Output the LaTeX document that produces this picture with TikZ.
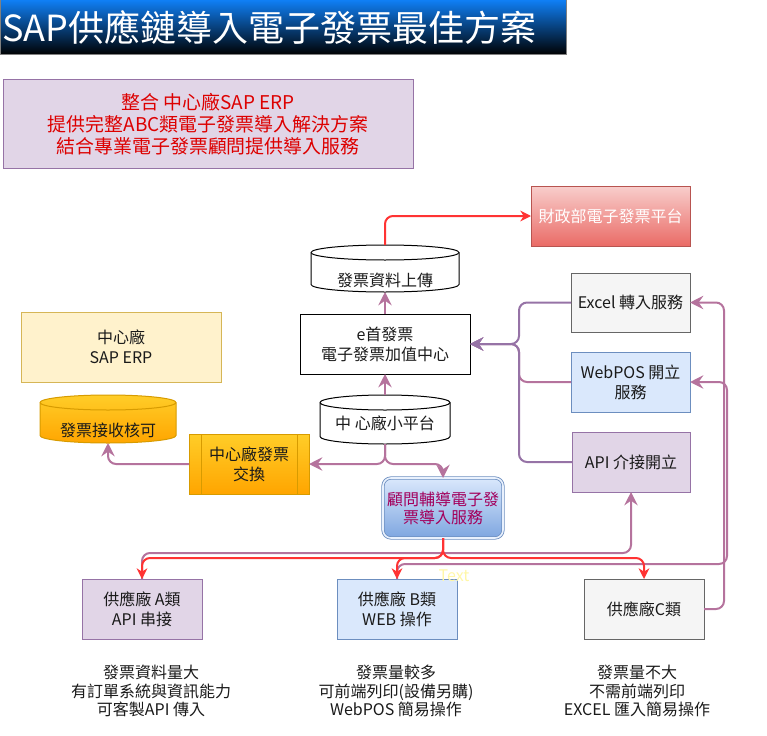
\documentclass[tikz,border=0pt]{standalone}
\usepackage{fontspec}
\setmainfont{Noto Sans CJK TC}
\usetikzlibrary{arrows.meta,calc}
\definecolor{pbd}{HTML}{9673A6}
\definecolor{pfill}{HTML}{E1D5E7}
\definecolor{cPink}{HTML}{B5739D}
\definecolor{redl}{HTML}{FF3333}
\definecolor{redt}{HTML}{DD0000}
\definecolor{ybd}{HTML}{D6B656}
\definecolor{yfill}{HTML}{FFF2CC}
\definecolor{obd}{HTML}{D79B00}
\definecolor{otop}{HTML}{FFCD28}
\definecolor{obot}{HTML}{FFA500}
\definecolor{rtop}{HTML}{F8CECC}
\definecolor{rbot}{HTML}{EA6B66}
\definecolor{rbd}{HTML}{B85450}
\definecolor{gfill}{HTML}{F5F5F5}
\definecolor{gbd}{HTML}{666666}
\definecolor{bfill}{HTML}{DAE8FC}
\definecolor{bbd}{HTML}{6C8EBF}
\definecolor{bbot}{HTML}{7EA6E0}
\definecolor{mag}{HTML}{A3005C}
\definecolor{tTop}{HTML}{0F7FF5}
\definecolor{tMid}{HTML}{063C85}
\definecolor{faintY}{HTML}{FFF7A8}
\definecolor{txt}{HTML}{1A1A1A}
\newcommand\myfs[2]{\fontsize{#1pt}{#2pt}\selectfont}
\newcommand\bx[6]{\node[#1,minimum width={(#4-#2)*0.75pt},minimum height={(#5-#3)*0.75pt}] (#6) at ({(#2+#4)/2},{(#3+#5)/2})}
\newcommand\drawcyl[6]{%
 \pgfmathsetmacro\cyA{#3}\pgfmathsetmacro\cyB{#5}%
 \pgfmathsetmacro\cyM{(#3+#5)/2}%
 \pgfmathsetmacro\cyK{0.5523*(#5-#3)/2}%
 \pgfmathsetmacro\cyT{#4+7.5}\pgfmathsetmacro\cyU{#4}%
 \pgfmathsetmacro\cyBt{#6-7.5}\pgfmathsetmacro\cyV{#6}%
 \pgfmathsetmacro\cyR{0.5523*7.5}%
 \path[#1] (\cyA,\cyT) -- (\cyA,\cyBt) .. controls (\cyA,\cyBt+\cyR) and (\cyM-\cyK,\cyV) .. (\cyM,\cyV) .. controls (\cyM+\cyK,\cyV) and (\cyB,\cyBt+\cyR) .. (\cyB,\cyBt) -- (\cyB,\cyT) .. controls (\cyB,\cyT-\cyR) and (\cyM+\cyK,\cyU) .. (\cyM,\cyU) .. controls (\cyM-\cyK,\cyU) and (\cyA,\cyT-\cyR) .. cycle;
 \draw[#2,line width=0.75pt] (\cyA,\cyT) .. controls (\cyA,\cyT+\cyR) and (\cyM-\cyK,\cyT+7.5) .. (\cyM,\cyT+7.5) .. controls (\cyM+\cyK,\cyT+7.5) and (\cyB,\cyT+\cyR) .. (\cyB,\cyT);
}
\begin{document}
\begin{tikzpicture}[x=0.75pt,y=-0.75pt,
  box/.style={draw, inner sep=0pt, outer sep=0pt, line width=0.75pt, align=center, text=txt, font=\myfs{12}{15}},
  anch/.style={inner sep=0pt, outer sep=0pt},
  lbl/.style={inner sep=0pt, align=center, text=txt, font=\myfs{12}{15}},
  note/.style={inner sep=0pt, align=center, text=txt, font=\myfs{12}{13.9}},
  pl/.style={draw=cPink, line width=1.5pt, rounded corners=6pt, -{Stealth[length=10pt,width=10pt,inset=3.5pt]}},
  pp/.style={pl, draw=pbd},
  rl/.style={draw=redl, line width=1.5pt, rounded corners=6pt, -{Stealth[length=8pt,width=8pt,inset=2.5pt]}}
]
\useasboundingbox (0,0) rectangle (767,735);
% title
\bx{anch, draw=gray, line width=0.75pt, top color=tTop, middle color=tMid, bottom color=black}{0}{0}{566}{55}{titlebar}{};
\node[anchor=west, inner sep=0pt, text=white, font=\myfs{27}{30}] (titletext) at (2,28) {SAP供應鏈導入電子發票最佳方案};
% intro
\bx{box, draw=pbd, fill=pfill, text=redt, font=\myfs{14.2}{16.6}}{3}{80}{413}{168}{intro}{整合 中心廠SAP ERP\\提供完整ABC類電子發票導入解決方案\\結合專業電子發票顧問提供導入服務};
% ERP
\bx{box, draw=ybd, fill=yfill}{21}{312}{221}{382}{erp}{中心廠\\SAP ERP};
% cylinders
\drawcyl{draw=obd, line width=0.75pt, top color=otop, bottom color=obot}{obd}{40}{395}{176}{443}
\bx{anch}{40}{395}{176}{443}{recv}{};
\node[lbl] (recvt) at (108,430) {發票接收核可};
\drawcyl{draw=black, line width=0.75pt, fill=white}{black}{311}{245}{459}{292}
\bx{anch}{311}{245}{459}{292}{upl}{};
\node[lbl] (uplt) at (385,280) {發票資料上傳};
\drawcyl{draw=black, line width=0.75pt, fill=white}{black}{320}{395}{450}{444}
\bx{anch}{320}{395}{450}{444}{plat}{};
\node[lbl] (platt) at (385,423) {中 心廠小平台};
% boxes
\bx{box, draw=black, fill=white}{300}{314}{470}{374}{ecenter}{e首發票\\電子發票加值中心};
\bx{box, draw=rbd, top color=rtop, bottom color=rbot, text=white}{531}{186}{690}{246}{mof}{財政部電子發票平台};
\bx{box, draw=obd, top color=otop, bottom color=obot}{189}{434}{309}{494}{xchg}{中心廠發票\\交換};
\draw[obd, line width=0.75pt] ($(xchg.north west)+(12,0)$) -- ($(xchg.south west)+(12,0)$);
\draw[obd, line width=0.75pt] ($(xchg.north east)+(-12,0)$) -- ($(xchg.south east)+(-12,0)$);
\bx{box, draw=gbd, fill=gfill}{571}{273}{690}{332}{excel}{Excel 轉入服務};
\bx{box, draw=bbd, fill=bfill}{571}{352}{690}{412}{webpos}{WebPOS 開立\\服務};
\bx{box, draw=pbd, fill=pfill}{572}{432}{690}{492}{api}{API 介接開立};
\bx{box, rounded corners=6pt, draw=bbd, line width=0.6pt, double=bfill!60!white, double distance=1.2pt, top color=bfill, bottom color=bbot, text=mag, font=\myfs{12}{13.5}}{383}{478}{503}{538}{cons}{顧問輔導電子發\\票導入服務};
\bx{box, draw=pbd, fill=pfill}{82}{579}{202}{639}{supA}{供應廠 A類\\API 串接};
\bx{box, draw=bbd, fill=bfill}{337}{579}{457}{639}{supB}{供應廠 B類\\WEB 操作};
\bx{box, draw=gbd, fill=gfill}{584}{579}{704}{639}{supC}{供應廠C類};
% notes
\node[note] (noteA) at (151,691) {發票資料量大\\有訂單系統與資訊能力\\可客製API 傳入};
\node[note] (noteB) at (396,691) {發票量較多\\可前端列印(設備另購)\\WebPOS 簡易操作};
\node[note] (noteC) at (637,691) {發票量不大\\不需前端列印\\EXCEL 匯入簡易操作};
\node[lbl, text=faintY] (ghost) at (454,576) {Text};
% coordinates
\coordinate (jn) at (519,344);
\coordinate (ya) at (631,553);
\coordinate (bxp) at (727,564);
\coordinate (cxp) at (724,450);
\coordinate (ry) at (443,558);
% connectors
\draw[rl] (upl.north) |- (mof.west);
\draw[pl] (ecenter.north) -- (upl.south);
\draw[pl] (plat.north) -- (ecenter.south);
\draw[pl] (plat.south) |- (xchg.east);
\draw[pl] (plat.south) |- (cons.north |- xchg.east) -- (cons.north);
\draw[pl] (xchg.west) -| (recv.south);
\draw[pl] (webpos.west) -| (jn) -- (ecenter.east);
\draw[pp] (api.west) -| (jn) -- (ecenter.east);
\draw[pp] (excel.west) -| (jn) -- (ecenter.east);
\draw[pl] (supA.north) |- (ya) -- (api.south);
\draw[pl] (supB.north) |- (bxp) |- (webpos.east);
\draw[pl] (supC.east) -| (cxp) |- (excel.east);
\draw[rl] (cons.south) -- (ry) -| (supA.north);
\draw[rl] (cons.south) -- (ry) -| (supB.north);
\draw[rl] (cons.south) -- (ry) -| (supC.north);
\end{tikzpicture}
\end{document}
